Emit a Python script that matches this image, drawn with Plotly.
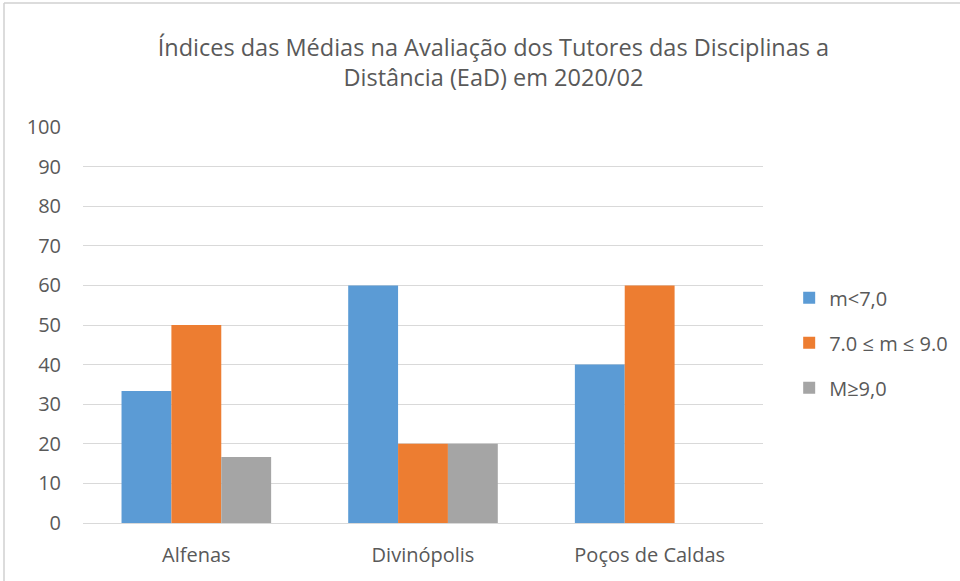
import plotly.graph_objects as go

categories = ["Alfenas", "Divinópolis", "Poços de Caldas"]
series_names = ["m<7,0", "7.0 ≤ m ≤ 9.0", "M≥9,0"]
s1 = [33.33, 60, 40]
s2 = [50, 20, 60]
s3 = [16.67, 20, 0]
colors = ["#5B9BD5", "#ED7D31", "#A5A5A5"]
y_ticks = list(range(0, 101, 10))

W, H = 960, 581
ml, mr, mt, mb = 83, 197, 127, 58

fig = go.Figure()
for i, (name, vals) in enumerate(zip(series_names, [s1, s2, s3])):
    fig.add_trace(go.Bar(
        x=categories, y=vals, name=name, marker_color=colors[i],
        marker_line_width=0, legendgroup=f"g{i}"))

fig.update_layout(
    width=W, height=H,
    margin=dict(l=ml, r=mr, t=mt, b=mb, autoexpand=False),
    paper_bgcolor="white", plot_bgcolor="white",
    font=dict(family="Open Sans, Liberation Sans, sans-serif", color="#595959", size=20),
    title=dict(text="Índices das Médias na Avaliação dos Tutores das Disciplinas a<br>Distância (EaD) em 2020/02",
               x=0.514, xanchor="center", y=0.904, yanchor="top",
               font=dict(size=23.5, color="#595959")),
    barmode="group", bargap=0.34, bargroupgap=0,
    legend=dict(x=1.0385, xanchor="left", y=0.455, yanchor="middle",
                font=dict(size=20, color="#595959"), tracegroupgap=16),
    yaxis=dict(range=[0, 100], tickvals=y_ticks, showgrid=True, gridcolor="#D9D9D9",
               gridwidth=1, zeroline=False, showline=False, ticks="outside",
               ticklen=17, tickcolor="rgba(0,0,0,0)",
               tickfont=dict(size=20)),
    xaxis=dict(showline=True, linecolor="#D9D9D9", linewidth=1, ticks="outside",
               ticklen=14, tickcolor="rgba(0,0,0,0)",
               tickfont=dict(size=20)),
)

pw = W - ml - mr
ph = H - mt - mb
# chart frame (left and top edges visible in the reference)
bx = (4 - ml) / pw
by = (H - mb - 3) / ph
fig.add_shape(type="line", xref="paper", yref="paper", x0=bx, x1=bx, y0=-mb / ph, y1=by,
              line=dict(color="#D0D0D0", width=1.5))
fig.add_shape(type="line", xref="paper", yref="paper", x0=bx, x1=(W - ml) / pw, y0=by, y1=by,
              line=dict(color="#D0D0D0", width=1.5))

fig.write_html("out.html", config={"displayModeBar": False},
               post_script="document.body.style.margin='0';")
